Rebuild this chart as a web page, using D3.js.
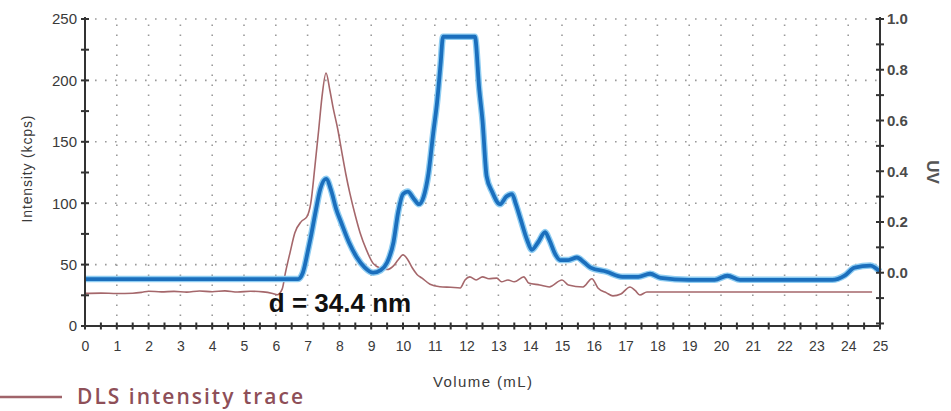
<!DOCTYPE html>
<html><head><meta charset="utf-8">
<script src="https://cdn.jsdelivr.net/npm/d3@7"></script>
<style>body{margin:0;background:#fff}svg{display:block}</style>
</head><body>
<svg id="c" width="951" height="411"></svg>
<script>
// ---- data ----
const dlsVolume = [0,0.5,1.0,1.5,1.8,2.0,2.4,2.8,3.2,3.6,4.0,4.4,4.8,5.2,5.6,5.9,6.05,6.2,6.3,6.45,6.6,6.8,6.98,7.1,7.23,7.35,7.45,7.58,7.7,7.8,7.95,8.08,8.2,8.33,8.5,8.65,8.85,9.06,9.3,9.5,9.7,9.85,10.0,10.15,10.3,10.44,10.6,10.85,11.16,11.5,11.8,11.95,12.1,12.3,12.5,12.7,12.95,13.1,13.3,13.5,13.8,13.95,14.3,14.6,15.0,15.2,15.66,15.94,16.13,16.4,16.6,16.85,17.14,17.3,17.45,17.67,18.5,20,22,24.75];
const dlsIntensity = [26.6,26.8,26.5,26.7,27.5,28.3,27.8,28.2,27.6,28.5,27.9,28.6,27.7,28.3,27.8,26.5,25.5,30,43,60,76,85,89,100,130,160,186,206,192,178,160,141,124,108,90,76,62,51,47,46,49,54,58,54,47,42,39,34,32,31.5,31,37.5,40,37.5,40,38.5,39,36,37.5,36,40,35,33.4,31.8,37.5,33.4,31.8,38.5,31,27,24.5,26,31.8,29,25.3,27.7,27.7,27.7,27.7,27.7];
const uvVolume = [0,6.7,6.85,7.0,7.1,7.25,7.4,7.58,7.75,7.9,8.05,8.3,8.55,8.8,9.06,9.3,9.5,9.7,9.85,10.0,10.15,10.35,10.5,10.65,10.8,10.95,11.07,11.18,11.26,12.26,12.4,12.5,12.63,12.8,13.05,13.25,13.43,13.55,13.7,13.9,14.05,14.25,14.47,14.6,14.8,14.94,15.2,15.47,15.7,15.9,16.4,16.9,17.4,17.77,18.1,19.0,19.8,20.2,20.6,23.5,23.9,24.2,24.7,25.0];
const uvAbsorbance = [-0.025,-0.025,0.0,0.08,0.14,0.24,0.33,0.37,0.32,0.25,0.2,0.12,0.06,0.02,0.0,0.01,0.04,0.12,0.24,0.31,0.32,0.29,0.27,0.30,0.39,0.55,0.67,0.82,0.93,0.93,0.72,0.60,0.38,0.32,0.27,0.30,0.31,0.27,0.21,0.13,0.09,0.12,0.16,0.13,0.07,0.05,0.05,0.06,0.04,0.02,0.004,-0.016,-0.016,-0.004,-0.02,-0.028,-0.028,-0.012,-0.028,-0.028,-0.01,0.02,0.028,0.004];
const xTickValues = d3.range(0, 26, 1);
const leftTickValues = [0,50,100,150,200,250];
const rightTickValues = [0.0,0.2,0.4,0.6,0.8,1.0];
const xTitle = "Volume (mL)";
const leftTitle = "Intensity (kcps)";
const rightTitle = "UV";
const annotation = "d = 34.4 nm";
const legendLabel = "DLS intensity trace";

// ---- layout ----
const L = 85, R = 880, T = 19, B = 326;
const svg = d3.select("#c");
const x = d3.scaleLinear().domain([0,25]).range([L,R]);
const yL = d3.scaleLinear().domain([0,250]).range([B,T]);
const yR = d3.scaleLinear().domain([-0.21,1.0]).range([B,T]);

// grid
const grid = svg.append("g").attr("stroke","#9a9a9a").attr("stroke-width",1.6).attr("stroke-dasharray","1.6,8.4");
grid.selectAll("line.v").data(d3.range(1,25)).join("line")
  .attr("x1",d=>x(d)).attr("x2",d=>x(d)).attr("y1",B).attr("y2",T);
grid.selectAll("line.h").data([50,100,150,200,250]).join("line")
  .attr("x1",L).attr("x2",R).attr("y1",d=>yL(d)).attr("y2",d=>yL(d));

// lines
const dls = dlsVolume.map((v,i)=>[v,dlsIntensity[i]]);
const uv = uvVolume.map((v,i)=>[v,uvAbsorbance[i]]);
const lineDLS = d3.line().x(d=>x(d[0])).y(d=>yL(d[1])).curve(d3.curveMonotoneX);
const lineUV = d3.line().x(d=>x(d[0])).y(d=>yR(d[1])).curve(d3.curveMonotoneX);
svg.append("path").attr("d",lineDLS(dls)).attr("fill","none").attr("stroke","#a5676b").attr("stroke-width",1.6);
svg.append("path").attr("d",lineUV(uv)).attr("fill","none").attr("stroke","#8fcdf2").attr("stroke-width",6.5).attr("stroke-linejoin","round");
svg.append("path").attr("d",lineUV(uv)).attr("fill","none").attr("stroke","#1b6fbd").attr("stroke-width",3.8).attr("stroke-linejoin","round");

// axes
const axCol = "#333";
const fmt = d3.format(".1f");
const gx = svg.append("g").attr("transform",`translate(0,${B})`)
  .call(d3.axisBottom(x).tickValues(xTickValues).tickSize(0).tickPadding(15).tickFormat(d3.format("d")));
const gl = svg.append("g").attr("transform",`translate(${L},0)`)
  .call(d3.axisLeft(yL).tickValues(leftTickValues).tickSize(0).tickPadding(8));
const gr = svg.append("g").attr("transform",`translate(${R},0)`)
  .call(d3.axisRight(yR).tickValues(rightTickValues).tickSize(0).tickPadding(7).tickFormat(fmt));
[gx,gl,gr].forEach(g=>{
  g.select(".domain").remove();
  g.selectAll("text").attr("fill","#3a3a3a").style("font-family","Liberation Sans, Arial, sans-serif");
});
gx.selectAll("text").style("font-size","14px");
gl.selectAll("text").style("font-size","15px");
gr.selectAll("text").style("font-size","15px").style("font-weight","bold").attr("fill","#4a4a4a");

// axis lines
svg.append("line").attr("x1",L).attr("x2",L).attr("y1",T-2).attr("y2",B).attr("stroke",axCol).attr("stroke-width",2);
svg.append("line").attr("x1",R).attr("x2",R).attr("y1",T-2).attr("y2",B).attr("stroke",axCol).attr("stroke-width",2);
svg.append("line").attr("x1",L).attr("x2",R).attr("y1",B).attr("y2",B).attr("stroke",axCol).attr("stroke-width",2);

// tick marks (crossing)
const tk = svg.append("g").attr("stroke",axCol).attr("stroke-width",2);
tk.selectAll("line.xt").data(d3.range(0,25.01,0.5)).join("line")
  .attr("x1",d=>x(d)).attr("x2",d=>x(d)).attr("y1",B-3.5).attr("y2",B+3.5);
tk.selectAll("line.lt").data(d3.range(0,251,25)).join("line")
  .attr("x1",L-4).attr("x2",L+4).attr("y1",d=>yL(d)).attr("y2",d=>yL(d));
tk.selectAll("line.rt").data(d3.range(-2,11,1).map(d=>d/10)).join("line")
  .attr("x1",R-4).attr("x2",R+4).attr("y1",d=>yR(d)).attr("y2",d=>yR(d));

// titles
svg.append("text").attr("x",(L+R)/2).attr("y",387).attr("text-anchor","middle")
  .style("font-family","Liberation Sans, Arial, sans-serif").style("font-size","15px").attr("fill","#3a3a3a")
  .attr("textLength",99).text(xTitle);
svg.append("text").attr("transform","translate(32,169) rotate(-90)").attr("text-anchor","middle")
  .style("font-family","Liberation Sans, Arial, sans-serif").style("font-size","14px").attr("fill","#3a3a3a")
  .attr("textLength",107).text(leftTitle);
svg.append("text").attr("transform","translate(927,172) rotate(90)").attr("text-anchor","middle")
  .style("font-family","Liberation Sans, Arial, sans-serif").style("font-size","17px").style("font-weight","bold").attr("fill","#555")
  .text(rightTitle);

// annotation
svg.append("text").attr("x",x(5.78)).attr("y",312)
  .style("font-family","Liberation Sans, Arial, sans-serif").style("font-size","26px").style("font-weight","bold").attr("fill","#111")
  .text(annotation);

// legend
svg.append("line").attr("x1",0).attr("x2",62).attr("y1",397).attr("y2",397).attr("stroke","#a0646a").attr("stroke-width",2.5);
svg.append("text").attr("x",77).attr("y",404)
  .style("font-family","Open Sans, sans-serif").style("font-size","21px").style("font-weight","600").attr("fill","#8e4f58")
  .attr("textLength",226).text(legendLabel);
</script>
</body></html>
